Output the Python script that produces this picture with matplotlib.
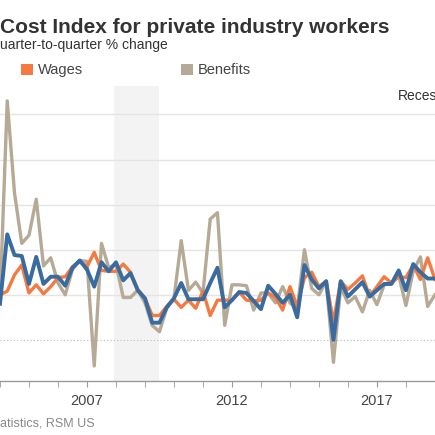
import numpy as np
import matplotlib
matplotlib.use("agg")
import matplotlib.pyplot as plt

plt.rcParams['font.family'] = ['Liberation Sans', 'DejaVu Sans']

# quarterly, first point is 2004 Q1
start_year = 2004
wages = [0.50, 0.54, 0.72, 0.83, 0.52, 0.61, 0.51, 0.59, 0.69, 0.70, 0.81, 0.87,
         0.81, 0.97, 0.77, 0.76, 0.76, 0.84, 0.75, 0.56, 0.46, 0.27, 0.27, 0.37,
         0.45, 0.36, 0.44, 0.35, 0.54, 0.27, 0.44, 0.44, 0.44, 0.53, 0.44, 0.43,
         0.44, 0.52, 0.47, 0.33, 0.59, 0.37, 0.69, 0.75, 0.59, 0.65, 0.20, 0.65,
         0.56, 0.63, 0.71, 0.48, 0.59, 0.70, 0.63, 0.70, 0.69, 0.83, 0.67, 0.91,
         0.67]
benefits = [0.45, 2.65, 1.63, 1.07, 1.16, 1.56, 0.82, 0.91, 0.63, 0.50, 0.78, 0.88,
            0.87, -0.29, 1.07, 0.80, 0.84, 0.47, 0.47, 0.55, 0.41, 0.16, 0.09, 0.35,
            0.46, 1.10, 0.55, 0.64, 0.52, 1.34, 1.41, 0.16, 0.61, 0.61, 0.60, 0.33,
            0.52, 0.52, 0.41, 0.59, 0.41, 0.34, 1.00, 0.57, 0.50, 0.65, -0.25, 0.59,
            0.41, 0.48, 0.31, 0.55, 0.39, 0.61, 0.62, 0.72, 0.38, 0.76, 0.92, 0.37,
            0.50]
total = [0.40, 1.17, 0.94, 0.93, 0.62, 0.92, 0.62, 0.70, 0.70, 0.60, 0.80, 0.88,
         0.78, 0.59, 0.86, 0.76, 0.86, 0.66, 0.74, 0.55, 0.46, 0.19, 0.19, 0.36,
         0.46, 0.63, 0.45, 0.45, 0.45, 0.63, 0.80, 0.36, 0.44, 0.53, 0.52, 0.43,
         0.34, 0.60, 0.51, 0.41, 0.50, 0.25, 0.83, 0.67, 0.57, 0.65, 0.00, 0.65,
         0.48, 0.56, 0.64, 0.48, 0.55, 0.62, 0.62, 0.77, 0.55, 0.84, 0.75, 0.68,
         0.68]
recession = (2007.92, 2009.5)
year_ticks = [2007, 2012, 2017]

# the picture is a crop of a wider chart, so only the visible parts of the texts
title = "Cost Index for private industry workers"
subtitle = "uarter-to-quarter % change"
source = "atistics, RSM US"
recession_label = "Reces"

t = start_year + np.arange(len(wages)) * 0.25

W = H = 435
fig = plt.figure(figsize=(4.355, 4.355), dpi=100)
fig.patch.set_facecolor('white')

# plot area: x 0..435 px, y 86..381 px
ax = fig.add_axes([0, (H - 381) / H, 1, 295 / H])
ax.set_xlim(2004.19, 2019.02)
ax.set_ylim(-0.456, 2.82)

ax.axvspan(*recession, color='#f3f3f3', zorder=0, lw=0)
for g in [0.5, 1.0, 1.5, 2.0, 2.5]:
    ax.axhline(g, color='#e4e4e4', lw=1, zorder=1)
ax.axhline(0, color='#bbbbbb', lw=0.8, ls=(0, (1, 2)), zorder=1)

ax.plot(t, benefits, color='#b6a996', lw=2.4, zorder=3)
ax.plot(t, wages, color='#f47a42', lw=2.4, zorder=4)
ax.plot(t, total, color='#3a6b9f', lw=2.8, zorder=5)

for s in ['top', 'left', 'right']:
    ax.spines[s].set_visible(False)
ax.spines['bottom'].set_color('#999999')
ax.spines['bottom'].set_linewidth(1)
ax.set_yticks([])
ax.set_xticks(year_ticks)
ax.set_xticklabels([str(y) for y in year_ticks], fontsize=10.5, color='#444444')
ax.set_xticks(range(2004, 2020), minor=True)
ax.tick_params(axis='x', which='both', length=4, color='#999999', pad=5)

fig.text(0, 1 - 33 / H, title, fontsize=15, fontweight='bold', color='#333333',
         ha='left', va='baseline')
fig.text(0, 1 - 49 / H, subtitle, fontsize=10, color='#333333',
         ha='left', va='baseline')
fig.text(0, 1 - 426 / H, source, fontsize=9, color='#888888',
         ha='left', va='baseline')

# legend
for x0, col, lab in [(21, '#f47a42', 'Wages'), (181, '#b6a996', 'Benefits')]:
    fig.patches.append(plt.Rectangle((x0 / W, 1 - 75 / H), 12 / W, 11 / H,
                                     transform=fig.transFigure, color=col, lw=0))
    fig.text((x0 + 17) / W, 1 - 70 / H, lab, fontsize=10.5, color='#444444',
             ha='left', va='center')

fig.text(397 / W, 1 - 100 / H, recession_label, fontsize=10, color='#333333',
         ha='left', va='baseline')

fig.savefig('out.png', dpi=100)
